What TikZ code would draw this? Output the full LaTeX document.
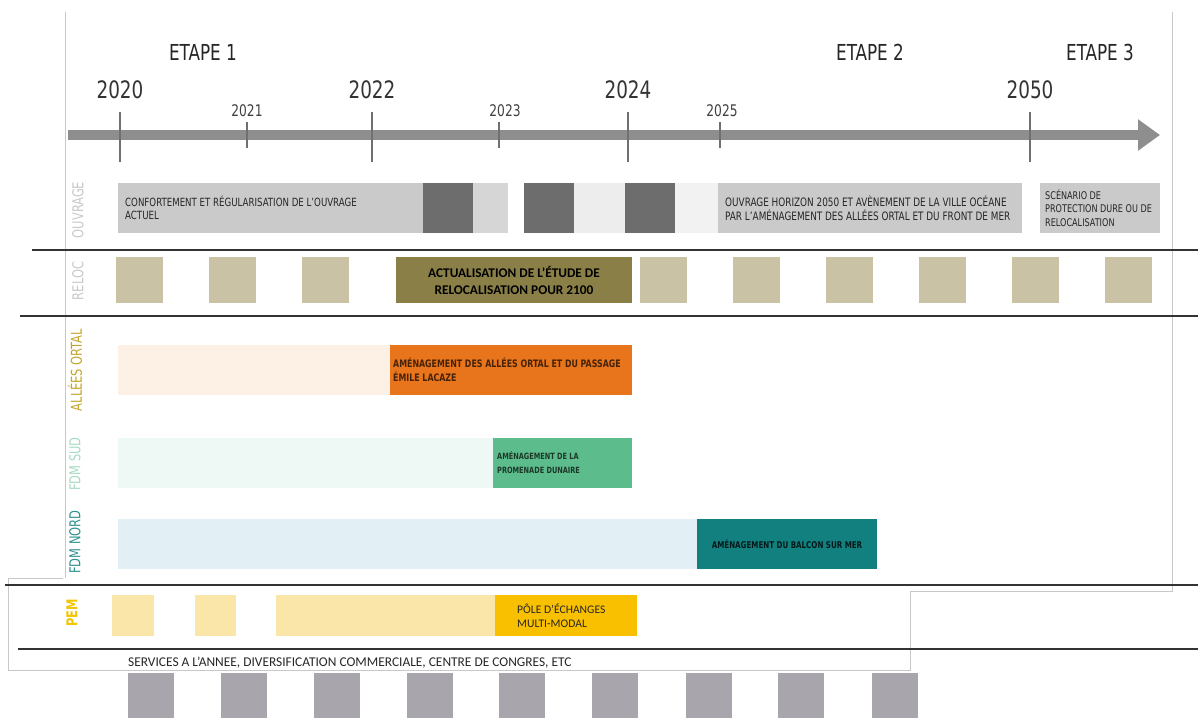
\documentclass[tikz,border=0pt]{standalone}
\usepackage{fontspec}
\setmainfont{DejaVu Sans Condensed}[FakeStretch=0.85]
\newfontfamily\calib{Carlito}
\usetikzlibrary{arrows.meta, positioning}
\definecolor{axisgray}{HTML}{8E8E8E}
\definecolor{tickgray}{HTML}{707070}
\definecolor{framegray}{HTML}{C8C8C8}
\definecolor{ouvlight}{HTML}{CACACA}
\definecolor{ouvdark}{HTML}{6D6D6D}
\definecolor{ouvmid}{HTML}{D6D6D6}
\definecolor{ouvpale}{HTML}{EDEDED}
\definecolor{reloctan}{HTML}{C9C2A5}
\definecolor{relocolive}{HTML}{8A7F47}
\definecolor{ortalpale}{HTML}{FDF0E4}
\definecolor{ortalorange}{HTML}{E8741B}
\definecolor{ortallabel}{HTML}{C4A52A}
\definecolor{sudpale}{HTML}{EEF8F4}
\definecolor{sudgreen}{HTML}{5DBC8C}
\definecolor{sudlabel}{HTML}{A6D9C2}
\definecolor{nordpale}{HTML}{E2F0F6}
\definecolor{nordteal}{HTML}{12807F}
\definecolor{nordlabel}{HTML}{2F8F8F}
\definecolor{pempale}{HTML}{FBE6AA}
\definecolor{pemyellow}{HTML}{F9C000}
\definecolor{pemlabel}{HTML}{F2C500}
\definecolor{servgray}{HTML}{A9A5AD}
\tikzset{
x=1pt, y=-1pt, % one unit is one pixel of the plan, y runs downwards
bar/.style={anchor=north west, inner sep=0pt, outer sep=0pt}, % every coloured block
btext/.style={anchor=west, align=left, inner sep=0pt, font=\fontsize{11.3}{13.5}\selectfont, text=black!85}, % text inside a block
rowlabel/.style={rotate=90, inner sep=0pt, font=\fontsize{15}{15}\selectfont}, % row names on the left
bigyear/.style={font=\fontsize{24}{24}\selectfont, text=black!80}, % 2020, 2022, 2024, 2050
smallyear/.style={font=\fontsize{16}{16}\selectfont, text=black!75}, % 2021, 2023, 2025
etape/.style={font=\fontsize{22}{22}\selectfont, text=black!85}, % stage titles
frame/.style={draw=framegray, line width=0.8pt}, % thin frames of the board
sepline/.style={draw=black!80, line width=1.6pt}, % black lines between the rows
tick/.style={draw=tickgray, line width=1.2pt}, % year marks on the axis
}

\begin{document}
\begin{tikzpicture}
    \useasboundingbox (0,0) rectangle (1198,717);
    % frames
    \draw[frame] (65,12) -- (65,578);
    \draw[frame] (1172,12) -- (1172,591) -- (910,591);
    \draw[frame] (63,578) -- (8,578) -- (8,670) -- (910,670) -- (910,591);

    % time axis
    \coordinate (start) at (68,135);
    \coordinate (end) at (1160,135);
    \draw[axisgray, line width=10pt, -{Triangle[length=22pt, width=30pt]}] (start) -- (end);
    \draw[tick] (120,112) -- (120,162);
    \draw[tick] (372,112) -- (372,162);
    \draw[tick] (628,112) -- (628,162);
    \draw[tick] (1030,112) -- (1030,162);
    \draw[tick] (247,122) -- (247,148);
    \draw[tick] (499,122) -- (499,148);
    \draw[tick] (720,122) -- (720,148);
    \node[etape] (e1) at (203,52) {ETAPE 1};
    \node[etape] (e2) at (870,52) {ETAPE 2};
    \node[etape] (e3) at (1100,52) {ETAPE 3};
    \node[bigyear] (y2020) at (120,90) {2020};
    \node[bigyear] (y2022) at (372,90) {2022};
    \node[bigyear] (y2024) at (628,90) {2024};
    \node[bigyear] (y2050) at (1030,90) {2050};
    \node[smallyear] (y2021) at (247,111) {2021};
    \node[smallyear] (y2023) at (505,111) {2023};
    \node[smallyear] (y2025) at (722,111) {2025};

    % ouvrage
    \node[rowlabel, text=framegray] (lo) at (78,210) {OUVRAGE};
    \node[bar, fill=ouvlight, minimum width=305, minimum height=50] (o1) at (118,183) {};
    \node[bar, fill=ouvdark, minimum width=50, minimum height=50] (o2) at (423,183) {};
    \node[bar, fill=ouvmid, minimum width=35, minimum height=50] (o3) at (473,183) {};
    \node[bar, fill=ouvdark, minimum width=50, minimum height=50] (o4) at (524,183) {};
    \node[bar, fill=ouvpale, minimum width=51, minimum height=50] (o5) at (574,183) {};
    \node[bar, fill=ouvdark, minimum width=50, minimum height=50] (o6) at (625,183) {};
    \node[bar, fill=black!5, minimum width=43, minimum height=50] (o7) at (675,183) {};
    \node[bar, fill=ouvlight, minimum width=304, minimum height=50] (o8) at (718,183) {};
    \node[bar, fill=ouvlight, minimum width=120, minimum height=50] (o9) at (1040,183) {};
    \node[btext, right=7pt of o1.west] (o1t) {CONFORTEMENT ET RÉGULARISATION DE L’OUVRAGE\\ACTUEL};
    \node[btext, font=\fontsize{11.6}{13.5}\selectfont, right=7pt of o8.west] (o8t) {OUVRAGE HORIZON 2050 ET AVÈNEMENT DE LA VILLE OCÉANE\\PAR L’AMÉNAGEMENT DES ALLÉES ORTAL ET DU FRONT DE MER};
    \node[btext, font=\fontsize{10.6}{13.8}\selectfont, right=5pt of o9.west] (o9t) {SCÉNARIO DE\\PROTECTION DURE OU DE\\RELOCALISATION};

    % relocalisation
    \node[rowlabel, text=framegray] (lr) at (78,281) {RELOC};
    \node[bar, fill=reloctan, minimum width=47, minimum height=46] (r1) at (116,257) {};
    \node[bar, fill=reloctan, minimum width=47, minimum height=46] (r2) at (209,257) {};
    \node[bar, fill=reloctan, minimum width=47, minimum height=46] (r3) at (302,257) {};
    \node[bar, fill=relocolive, minimum width=236, minimum height=46, align=center,
          font=\calib\bfseries\fontsize{13.3}{17}\selectfont] (r4) at (396,257)
          {ACTUALISATION DE L’ÉTUDE DE\\RELOCALISATION POUR 2100};
    \node[bar, fill=reloctan, minimum width=47, minimum height=46] (r5) at (640,257) {};
    \node[bar, fill=reloctan, minimum width=47, minimum height=46] (r6) at (733,257) {};
    \node[bar, fill=reloctan, minimum width=47, minimum height=46] (r7) at (826,257) {};
    \node[bar, fill=reloctan, minimum width=47, minimum height=46] (r8) at (919,257) {};
    \node[bar, fill=reloctan, minimum width=47, minimum height=46] (r9) at (1012,257) {};
    \node[bar, fill=reloctan, minimum width=47, minimum height=46] (r10) at (1105,257) {};

    % allees ortal
    \node[rowlabel, text=ortallabel] (la) at (75,370) {ALLÉES ORTAL};
    \node[bar, fill=ortalpale, minimum width=272, minimum height=50] (a1) at (118,345) {};
    \node[bar, fill=ortalorange, minimum width=242, minimum height=50] (a2) at (390,345) {};
    \node[btext, font=\bfseries\fontsize{10.3}{14}\selectfont, text=black!70!ortalorange, right=3pt of a2.west] (a2t)
          {AMÉNAGEMENT DES ALLÉES ORTAL ET DU PASSAGE\\ÉMILE LACAZE};

    % front de mer sud
    \node[rowlabel, text=sudlabel] (ls) at (75,464) {FDM SUD};
    \node[bar, fill=sudpale, minimum width=375, minimum height=50] (s1) at (118,438) {};
    \node[bar, fill=sudgreen, minimum width=139, minimum height=50] (s2) at (493,438) {};
    \node[btext, font=\bfseries\fontsize{8.6}{14}\selectfont, text=black!70!sudgreen, right=4pt of s2.west] (s2t)
          {AMÉNAGEMENT DE LA\\PROMENADE DUNAIRE};

    % front de mer nord
    \node[rowlabel, text=nordlabel] (ln) at (75,542) {FDM NORD};
    \node[bar, fill=nordpale, minimum width=579, minimum height=50] (n1) at (118,519) {};
    \node[bar, fill=nordteal, minimum width=180, minimum height=50, align=center,
          font=\bfseries\fontsize{9.3}{10}\selectfont, text=black!80!nordteal] (n2) at (697,519)
          {AMÉNAGEMENT DU BALCON SUR MER};

    % pole d'echanges
    \node[rowlabel, text=pemlabel, font=\bfseries\fontsize{15}{15}\selectfont] (lp) at (72,613) {PEM};
    \node[bar, fill=pempale, minimum width=42, minimum height=41] (p1) at (112,595) {};
    \node[bar, fill=pempale, minimum width=41, minimum height=41] (p2) at (195,595) {};
    \node[bar, fill=pempale, minimum width=219, minimum height=41] (p3) at (276,595) {};
    \node[bar, fill=pemyellow, minimum width=142, minimum height=41] (p4) at (495,595) {};
    \node[btext, font=\calib\fontsize{11.6}{14}\selectfont, text=black!85, right=22pt of p4.west] (p4t)
          {PÔLE D’ÉCHANGES\\MULTI-MODAL};

    % services
    \node[anchor=west, inner sep=0pt, font=\calib\fontsize{13.4}{13}\selectfont, text=black!85] (sv) at (128,663)
          {SERVICES A L’ANNEE, DIVERSIFICATION COMMERCIALE, CENTRE DE CONGRES, ETC};
    \node[bar, fill=servgray, minimum width=46, minimum height=45] (g1) at (128,673) {};
    \node[bar, fill=servgray, minimum width=46, minimum height=45] (g2) at (221,673) {};
    \node[bar, fill=servgray, minimum width=46, minimum height=45] (g3) at (314,673) {};
    \node[bar, fill=servgray, minimum width=46, minimum height=45] (g4) at (407,673) {};
    \node[bar, fill=servgray, minimum width=46, minimum height=45] (g5) at (499,673) {};
    \node[bar, fill=servgray, minimum width=46, minimum height=45] (g6) at (592,673) {};
    \node[bar, fill=servgray, minimum width=46, minimum height=45] (g7) at (686,673) {};
    \node[bar, fill=servgray, minimum width=46, minimum height=45] (g8) at (778,673) {};
    \node[bar, fill=servgray, minimum width=46, minimum height=45] (g9) at (872,673) {};

    % row separators
    \draw[sepline] (32,250) -- (1198,250);
    \draw[sepline] (20,316) -- (1198,316);
    \draw[sepline] (5,585) -- (1198,585);
    \draw[sepline] (18,649) -- (1198,649);
\end{tikzpicture}
\end{document}
